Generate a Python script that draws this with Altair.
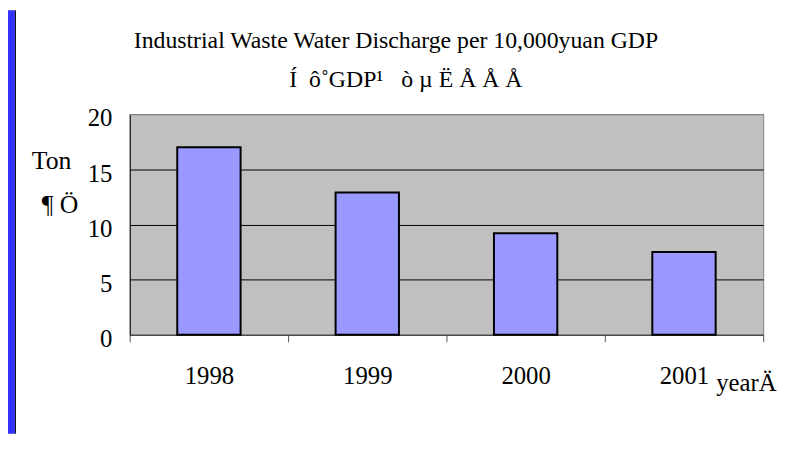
import altair as alt
import pandas as pd

# ---- data ----
years = ["1998", "1999", "2000", "2001"]
tons = [17.0, 12.9, 9.2, 7.5]
y_ticks = [0, 5, 10, 15, 20]
title_line1 = "Industrial Waste Water Discharge per 10,000yuan GDP"
title_line2 = "Í\u00a0\u00a0ô˚GDP¹\u00a0\u00a0\u00a0ò\u00a0µ\u00a0Ë\u00a0Å\u00a0Å\u00a0Å"
y_title1 = "Ton"
y_title2 = "¶ Ö"
x_title = "yearÄ"

df = pd.DataFrame({"year": years, "tons": tons})
one = pd.DataFrame({"k": [0]})

SERIF = "Liberation Serif"
PAD = {"left": 123, "top": 105, "right": 16, "bottom": 100}
W, H = 640, 223

band = alt.Chart(one).mark_rect(color="#3333FF").encode(
    x=alt.value(-PAD["left"]), x2=alt.value(-PAD["left"] + 7),
    y=alt.value(-PAD["top"]), y2=alt.value(H + PAD["bottom"]),
)
edge = alt.Chart(one).mark_rect(color="black").encode(
    x=alt.value(-PAD["left"] + 7), x2=alt.value(-PAD["left"] + 8),
    y=alt.value(-PAD["top"]), y2=alt.value(H + PAD["bottom"]),
)


def label(text, x, y, size, align="center"):
    return alt.Chart(one).mark_text(
        font=SERIF, fontSize=size, align=align, baseline="alphabetic", color="black"
    ).encode(x=alt.value(x), y=alt.value(y), text=alt.value(text))


t1 = label(title_line1, 269, -67, 24)
t2 = label(title_line2, 279, -27, 24)
yt1 = label(y_title1, -99, 55, 26, "left")
yt2 = label(y_title2, -89, 100, 26, "left")

bars = alt.Chart(df).mark_bar(
    width=alt.RelativeBandSize(0.4), fill="#9999FF", stroke="black", strokeWidth=2
).encode(
    x=alt.X(
        "year:N", sort=years,
        scale=alt.Scale(paddingInner=0, paddingOuter=0),
        axis=alt.Axis(
            title=x_title, labelAngle=0, tickBand="extent", ticks=True, tickSize=7,
            tickColor="#555555", domainColor="#555555", grid=False,
            labelFont=SERIF, labelFontSize=25, labelColor="black",
            labelBaseline="alphabetic", labelPadding=42,
            titleFont=SERIF, titleFontSize=25, titleFontWeight="normal", titleColor="black",
            titleX=592, titleY=56, titleAlign="left", titleBaseline="alphabetic", titleAngle=0,
        ),
    ),
    y=alt.Y(
        "tons:Q",
        scale=alt.Scale(domain=[0, 20], nice=False),
        axis=alt.Axis(
            values=y_ticks, title=None, domainColor="black", ticks=False,
            labelFont=SERIF, labelFontSize=25, labelColor="black", labelPadding=18,
            labelBaseline="alphabetic", labelOffset=12, labelFlush=False,
            grid=True,
            gridColor=alt.condition("datum.value == 20", alt.value("#808080"), alt.value("black")),
            gridOpacity=1, gridWidth=1,
        ),
    ),
)

chart = alt.layer(band, edge, bars, t1, t2, yt1, yt2).properties(
    width=W, height=H,
    autosize=alt.AutoSizeParams(type="none"),
    padding=PAD,
).configure(background="white").configure_view(fill="#C0C0C0", stroke="#808080", strokeWidth=1)

chart.save("out.html", embed_options={"renderer": "svg", "actions": False})
